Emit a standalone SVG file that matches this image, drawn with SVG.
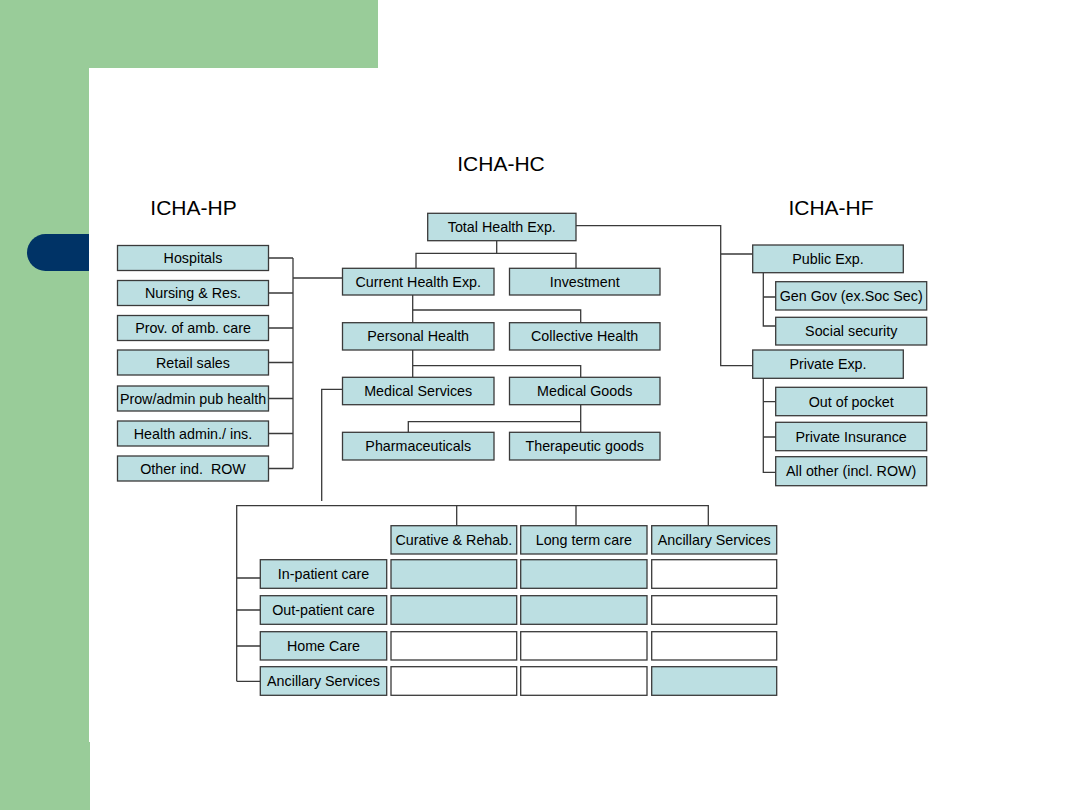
<svg xmlns="http://www.w3.org/2000/svg" width="1080" height="810" viewBox="0 0 1080 810">
<style>
.bx{fill:#bcdfe2;stroke:#3a3a3a;stroke-width:1.3}
.wb{fill:#ffffff;stroke:#3a3a3a;stroke-width:1.3}
.t{font-family:"Liberation Sans",Arial,sans-serif;font-size:14.3px;fill:#000;text-anchor:middle}
.h{font-family:"Liberation Sans",Arial,sans-serif;font-size:21px;fill:#000;text-anchor:middle}
.c{fill:none;stroke:#3a3a3a;stroke-width:1.3}
</style>
<rect x="0" y="0" width="1080" height="810" fill="#ffffff"/>
<rect x="0" y="0" width="378" height="68" fill="#99cc99"/>
<rect x="0" y="0" width="89" height="810" fill="#99cc99"/>
<rect x="89" y="742" width="1" height="68" fill="#99cc99"/>
<rect x="27" y="234" width="62" height="37" rx="18.5" fill="#003366"/>
<rect x="70" y="234" width="19" height="37" fill="#003366"/>

<text class="h" x="501" y="171">ICHA-HC</text>
<text class="h" x="193.5" y="215">ICHA-HP</text>
<text class="h" x="831" y="215">ICHA-HF</text>

<g id="connectors">
<path class="c" d="M268.5,258H293M268.5,293H293M268.5,328H293M268.5,362.5H293M268.5,398.5H293M268.5,433.5H293M268.5,468.5H293M293,258V468.5M293,278H342.5"/>
<path class="c" d="M496.7,240.7V253.3M416,268.3V253.3H576V268.3"/>
<path class="c" d="M412.7,295V322.7M412.7,310H580.7V322.7"/>
<path class="c" d="M412.7,350V377.3M412.7,365.7H580.7V377.3"/>
<path class="c" d="M580.7,404.7V432.3M408.3,432.3V421.7H580.7"/>
<path class="c" d="M342.5,389.3H321.7V501"/>
<path class="c" d="M236.7,681.3V505.7H708.3V525.7M236.7,578H260.3M236.7,610H260.3M236.7,646H260.3M236.7,681.3H260.3M456.7,505.7V525.7M576,505.7V525.7"/>
<path class="c" d="M576,225.7H720.7V365.7H752.7M720.7,254H752.7"/>
<path class="c" d="M763.3,272.7V326H775.7M763.3,297H775.7"/>
<path class="c" d="M763.3,378.3V472.3H775.7M763.3,401.7H775.7M763.3,437H775.7"/>
</g>

<g id="hp-hospitals"><rect class="bx" x="117.5" y="245.5" width="151" height="25"/><text class="t" x="193" y="263">Hospitals</text></g>
<g id="hp-nursing"><rect class="bx" x="117.5" y="280.5" width="151" height="25"/><text class="t" x="193" y="298">Nursing &amp; Res.</text></g>
<g id="hp-amb"><rect class="bx" x="117.5" y="315.5" width="151" height="25"/><text class="t" x="193" y="333">Prov. of amb. care</text></g>
<g id="hp-retail"><rect class="bx" x="117.5" y="350" width="151" height="25"/><text class="t" x="193" y="367.5">Retail sales</text></g>
<g id="hp-pubhealth"><rect class="bx" x="117.5" y="386" width="151" height="25"/><text class="t" x="193" y="403.5">Prow/admin pub health</text></g>
<g id="hp-admin"><rect class="bx" x="117.5" y="421" width="151" height="25"/><text class="t" x="193" y="438.5">Health admin./ ins.</text></g>
<g id="hp-other"><rect class="bx" x="117.5" y="456" width="151" height="25"/><text class="t" x="193" y="473.5" xml:space="preserve">Other ind.  ROW</text></g>

<g id="hc-total"><rect class="bx" x="427.7" y="213.3" width="148.3" height="27.4"/><text class="t" x="501.8" y="232">Total Health Exp.</text></g>
<g id="hc-current"><rect class="bx" x="342.5" y="268.3" width="151.5" height="26.7"/><text class="t" x="418.2" y="286.7">Current Health Exp.</text></g>
<g id="hc-investment"><rect class="bx" x="509.5" y="268.3" width="150.5" height="26.7"/><text class="t" x="584.7" y="286.7">Investment</text></g>
<g id="hc-personal"><rect class="bx" x="342.5" y="322.7" width="151.5" height="27.3"/><text class="t" x="418.2" y="341.4">Personal Health</text></g>
<g id="hc-collective"><rect class="bx" x="509.5" y="322.7" width="150.5" height="27.3"/><text class="t" x="584.7" y="341.4">Collective Health</text></g>
<g id="hc-medserv"><rect class="bx" x="342.5" y="377.3" width="151.5" height="27.4"/><text class="t" x="418.2" y="396">Medical Services</text></g>
<g id="hc-medgoods"><rect class="bx" x="509.5" y="377.3" width="150.5" height="27.4"/><text class="t" x="584.7" y="396">Medical Goods</text></g>
<g id="hc-pharma"><rect class="bx" x="342.5" y="432.3" width="151.5" height="27.7"/><text class="t" x="418.2" y="451.2">Pharmaceuticals</text></g>
<g id="hc-therap"><rect class="bx" x="509.5" y="432.3" width="150.5" height="27.7"/><text class="t" x="584.7" y="451.2">Therapeutic goods</text></g>

<g id="hf-public"><rect class="bx" x="752.7" y="245" width="150.6" height="27.7"/><text class="t" x="828" y="264">Public Exp.</text></g>
<g id="hf-gengov"><rect class="bx" x="775.7" y="281.7" width="151" height="28.3"/><text class="t" x="851.2" y="300.8">Gen Gov (ex.Soc Sec)</text></g>
<g id="hf-social"><rect class="bx" x="775.7" y="317.3" width="151" height="27.7"/><text class="t" x="851.2" y="336">Social security</text></g>
<g id="hf-private"><rect class="bx" x="752.7" y="350" width="150.6" height="28.3"/><text class="t" x="828" y="369.2">Private Exp.</text></g>
<g id="hf-oop"><rect class="bx" x="775.7" y="387.3" width="151" height="28.4"/><text class="t" x="851.2" y="406.5">Out of pocket</text></g>
<g id="hf-privins"><rect class="bx" x="775.7" y="422.3" width="151" height="28.4"/><text class="t" x="851.2" y="441.5">Private Insurance</text></g>
<g id="hf-allother"><rect class="bx" x="775.7" y="456.7" width="151" height="29"/><text class="t" x="851.2" y="476.2">All other (incl. ROW)</text></g>

<g id="m-curative"><rect class="bx" x="391" y="525.7" width="125.7" height="28.3"/><text class="t" x="453.8" y="544.8">Curative &amp; Rehab.</text></g>
<g id="m-longterm"><rect class="bx" x="520.7" y="525.7" width="126.3" height="28.3"/><text class="t" x="583.8" y="544.8">Long term care</text></g>
<g id="m-ancillary-col"><rect class="bx" x="651.7" y="525.7" width="125" height="28.3"/><text class="t" x="714.2" y="544.8">Ancillary Services</text></g>

<g id="m-inpatient"><rect class="bx" x="260.3" y="559.7" width="126.4" height="28.6"/><text class="t" x="323.5" y="579">In-patient care</text></g>
<g id="m-outpatient"><rect class="bx" x="260.3" y="595.7" width="126.4" height="28.6"/><text class="t" x="323.5" y="615">Out-patient care</text></g>
<g id="m-homecare"><rect class="bx" x="260.3" y="631.7" width="126.4" height="28.3"/><text class="t" x="323.5" y="650.8">Home Care</text></g>
<g id="m-ancillary-row"><rect class="bx" x="260.3" y="666.7" width="126.4" height="28.6"/><text class="t" x="323.5" y="686">Ancillary Services</text></g>

<g id="m-cells">
<rect class="bx" x="391" y="559.7" width="125.7" height="28.6"/>
<rect class="bx" x="520.7" y="559.7" width="126.3" height="28.6"/>
<rect class="wb" x="651.7" y="559.7" width="125" height="28.6"/>
<rect class="bx" x="391" y="595.7" width="125.7" height="28.6"/>
<rect class="bx" x="520.7" y="595.7" width="126.3" height="28.6"/>
<rect class="wb" x="651.7" y="595.7" width="125" height="28.6"/>
<rect class="wb" x="391" y="631.7" width="125.7" height="28.3"/>
<rect class="wb" x="520.7" y="631.7" width="126.3" height="28.3"/>
<rect class="wb" x="651.7" y="631.7" width="125" height="28.3"/>
<rect class="wb" x="391" y="666.7" width="125.7" height="28.6"/>
<rect class="wb" x="520.7" y="666.7" width="126.3" height="28.6"/>
<rect class="bx" x="651.7" y="666.7" width="125" height="28.6"/>
</g>
</svg>
